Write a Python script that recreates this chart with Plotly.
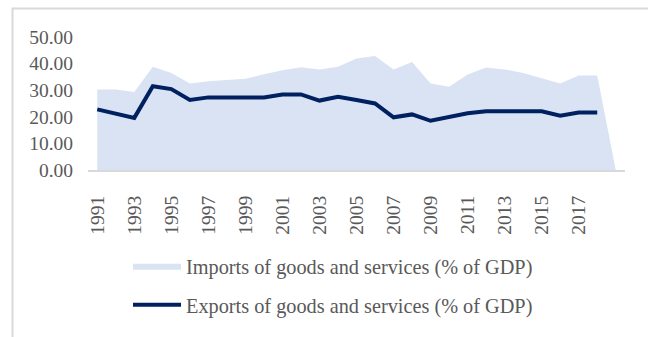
import plotly.graph_objects as go

years = list(range(1991, 2020))
imports_pct = [30.3, 30.3, 29.3, 38.8, 36.5, 32.5, 33.4, 33.8, 34.3, 36.0,
               37.5, 38.6, 37.8, 38.8, 41.9, 42.9, 37.8, 40.6, 32.5, 31.3,
               35.9, 38.5, 37.8, 36.5, 34.6, 32.5, 35.5, 35.5, 0.0]
exports_pct = [22.8, 21.3, 19.6, 31.5, 30.4, 26.3, 27.3, 27.3, 27.3, 27.3,
               28.4, 28.4, 26.1, 27.5, 26.3, 25.0, 19.8, 20.9, 18.5, 20.0,
               21.3, 22.1, 22.1, 22.1, 22.1, 20.4, 21.6, 21.6, None]
x_tick_years = [1991, 1993, 1995, 1997, 1999, 2001, 2003, 2005, 2007,
                2009, 2011, 2013, 2015, 2017]
y_tick_vals = [0, 10, 20, 30, 40, 50]
y_tick_text = ["0.00", "10.00", "20.00", "30.00", "40.00", "50.00"]

FONT = "Liberation Serif, Times New Roman, serif"
GREY = "#595959"

W, H = 648, 337
ML, MR, MT, MB = 88, 23, 37, 167
PW = W - ML - MR
PH = H - MT - MB


def px_to_paper_x(px):
    return (px - ML) / PW


def px_to_paper_y(py):
    return (H - MB - py) / PH


fig = go.Figure()
fig.add_trace(go.Scatter(
    x=years, y=imports_pct, mode="lines", fill="tozeroy",
    fillcolor="#DAE3F3", line=dict(width=0, color="#DAE3F3"),
    name="Imports of goods and services (% of GDP)", legend="legend",
))
fig.add_trace(go.Scatter(
    x=years, y=exports_pct, mode="lines",
    line=dict(width=4, color="#002060"),
    name="Exports of goods and services (% of GDP)", legend="legend2",
))

legend_common = dict(
    xanchor="left", yanchor="middle", itemwidth=48,
    font=dict(family=FONT, size=20.3, color=GREY),
    bgcolor="rgba(0,0,0,0)", borderwidth=0,
)

fig.update_layout(
    width=W, height=H,
    margin=dict(l=ML, r=MR, t=MT, b=MB),
    paper_bgcolor="white", plot_bgcolor="white",
    font=dict(family=FONT, size=19, color=GREY),
    showlegend=True,
    legend=dict(x=px_to_paper_x(128), y=px_to_paper_y(266), **legend_common),
    legend2=dict(x=px_to_paper_x(128), y=px_to_paper_y(305), **legend_common),
    xaxis=dict(
        range=[1990.5, 2019.5], tickmode="array", tickvals=x_tick_years,
        ticktext=[str(v) for v in x_tick_years], tickangle=-90,
        showgrid=False, zeroline=False, showline=True,
        linecolor="#D9D9D9", linewidth=2, ticks="",
        ticklabelstandoff=16,
        tickfont=dict(family=FONT, size=19.5, color=GREY),
    ),
    yaxis=dict(
        range=[0, 50], tickmode="array", tickvals=y_tick_vals,
        ticktext=y_tick_text, showgrid=False, zeroline=False,
        showline=False, ticks="", ticklabelstandoff=14,
        tickfont=dict(family=FONT, size=19.5, color=GREY),
    ),
    shapes=[dict(
        type="rect", xref="paper", yref="paper",
        x0=px_to_paper_x(12.5), x1=px_to_paper_x(700),
        y0=px_to_paper_y(400), y1=px_to_paper_y(8.5),
        line=dict(color="#D9D9D9", width=2), fillcolor="rgba(0,0,0,0)",
        layer="below",
    )],
)

fig.write_html("out.html")
